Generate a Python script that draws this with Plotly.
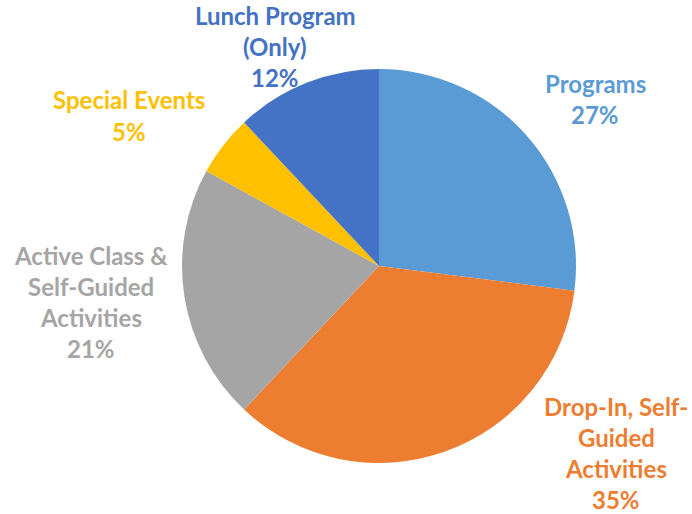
import plotly.graph_objects as go

W, H = 692, 514

categories = [
    "Programs",
    "Drop-In, Self-Guided Activities",
    "Active Class & Self-Guided Activities",
    "Special Events",
    "Lunch Program (Only)",
]
values = [27, 35, 21, 5, 12]
colors = ["#5B9BD5", "#ED7D31", "#A5A5A5", "#FFC000", "#4472C4"]

# label lines as drawn on the chart
label_lines = [
    ["Programs", "27%"],
    ["Drop-In, Self-", "Guided", "Activities", "35%"],
    ["Active Class &", "Self-Guided", "Activities", "21%"],
    ["Special Events", "5%"],
    ["Lunch Program", "(Only)", "12%"],
]
# centre of first line, pixels
label_pos = [(595, 84), (616, 406), (91, 255), (129, 100), (275, 15)]
line_step = 31

fig = go.Figure(
    go.Pie(
        labels=categories,
        values=values,
        sort=False,
        direction="clockwise",
        rotation=0,
        marker=dict(colors=colors, line=dict(color="white", width=0)),
        textinfo="none",
        hoverinfo="label+percent",
        domain=dict(x=[(379 - 197) / W, (379 + 197) / W], y=[1 - 463 / H, 1 - 69 / H]),
    )
)

for lines, (px0, py0), c in zip(label_lines, label_pos, colors):
    for i, t in enumerate(lines):
        fig.add_annotation(
            x=px0 / W,
            y=1 - (py0 + i * line_step) / H,
            xref="paper",
            yref="paper",
            text=f"<b>{t}</b>",
            showarrow=False,
            xanchor="center",
            yanchor="middle",
            font=dict(family="Lato", size=24, color=c),
        )

fig.update_layout(
    width=W,
    height=H,
    margin=dict(l=0, r=0, t=0, b=0),
    showlegend=False,
    paper_bgcolor="white",
    plot_bgcolor="white",
)

fig.write_html(
    "out.html",
    config={"displayModeBar": False},
    post_script="document.body.style.margin='0';",
)
